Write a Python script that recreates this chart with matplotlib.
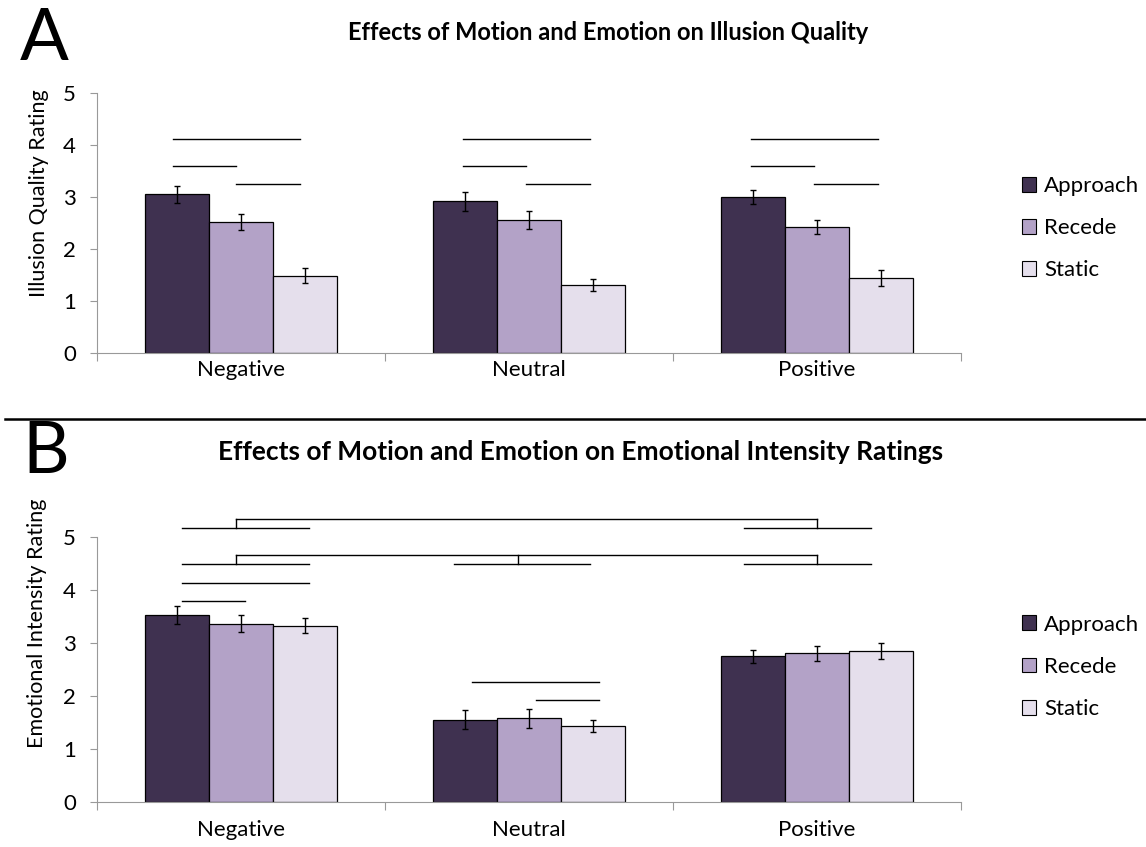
import matplotlib
matplotlib.use("Agg")
import matplotlib.pyplot as plt
from matplotlib.patches import Patch
import numpy as np

plt.rcParams['font.family'] = ['Lato', 'DejaVu Sans']

categories = ['Negative', 'Neutral', 'Positive']
conditions = ['Approach', 'Recede', 'Static']
colors = ['#3f3150', '#b3a2c7', '#e5dfec']

# panel A: illusion quality
quality = {
    'Approach': [3.05, 2.92, 3.00],
    'Recede':   [2.52, 2.56, 2.42],
    'Static':   [1.49, 1.31, 1.44],
}
quality_err = {
    'Approach': [0.17, 0.18, 0.13],
    'Recede':   [0.16, 0.18, 0.14],
    'Static':   [0.14, 0.11, 0.15],
}

# panel B: emotional intensity
intensity = {
    'Approach': [3.52, 1.55, 2.75],
    'Recede':   [3.36, 1.58, 2.81],
    'Static':   [3.33, 1.43, 2.85],
}
intensity_err = {
    'Approach': [0.17, 0.18, 0.12],
    'Recede':   [0.16, 0.18, 0.14],
    'Static':   [0.15, 0.11, 0.15],
}

# significance lines: (x0, x1, y) in data units
sig_a = [(-0.236, 0.205, 4.12), (-0.236, -0.017, 3.60), (-0.017, 0.205, 3.25),
         (0.771, 1.212, 4.12), (0.771, 0.990, 3.60), (0.990, 1.212, 3.25),
         (1.771, 2.212, 4.12), (1.771, 1.990, 3.60), (1.990, 2.212, 3.25)]
sig_b = [(-0.205, 0.014, 3.79), (-0.205, 0.236, 4.13), (-0.205, 0.236, 4.49),
         (-0.205, 0.236, 5.17), (0.740, 1.212, 4.49),
         (0.802, 1.243, 2.26), (1.024, 1.243, 1.92),
         (1.747, 2.188, 5.17), (1.747, 2.188, 4.49)]
# brackets joining groups: (list of x feet, y top, y foot)
brackets_b = [([-0.017, 2.0], 5.34, 5.17), ([-0.017, 0.962, 2.0], 4.66, 4.49)]

fig = plt.figure(figsize=(11.46, 8.47), dpi=100)
ax_a = fig.add_axes([0.0846, 0.5832, 0.754, 0.307])
ax_b = fig.add_axes([0.0846, 0.0531, 0.754, 0.3129])

width = 0.2222
x = np.arange(len(categories))


def draw_panel(ax, vals, errs, ylabel, xpad, label_xy, leg_y):
    for i, c in enumerate(conditions):
        ax.bar(x + (i - 1) * width, vals[c], width, color=colors[i],
               edgecolor='black', linewidth=0.9, zorder=2)
        ax.errorbar(x + (i - 1) * width, vals[c], yerr=errs[c], fmt='none',
                    ecolor='black', elinewidth=1.0, capsize=2.5, capthick=1.0,
                    zorder=3)
    ax.set_xlim(-0.5, 2.5)
    ax.set_ylim(0, 5)
    ax.set_yticks([0, 1, 2, 3, 4, 5])
    ax.set_xticks([-0.5, 0.5, 1.5, 2.5])
    ax.set_xticklabels([])
    ax.set_xticks(x, minor=True)
    ax.set_xticklabels(categories, minor=True, fontsize=16)
    ax.tick_params(axis='x', which='minor', length=0, pad=xpad)
    ax.tick_params(axis='x', which='major', length=6, color='#999999')
    ax.tick_params(axis='y', length=5, color='#999999', labelsize=16, pad=10)
    for s in ['top', 'right']:
        ax.spines[s].set_visible(False)
    for s in ['left', 'bottom']:
        ax.spines[s].set_color('#999999')
    ax.set_ylabel(ylabel, fontsize=15.5)
    ax.yaxis.set_label_coords(*label_xy)
    handles = [Patch(facecolor=colors[i], edgecolor='black', linewidth=0.8,
                     label=c) for i, c in enumerate(conditions)]
    ax.legend(handles=handles, loc='center left', bbox_to_anchor=(1.06, leg_y),
              frameon=False, fontsize=16, handlelength=0.65, handleheight=0.65,
              handletextpad=0.35, labelspacing=1.0, borderaxespad=0)


draw_panel(ax_a, quality, quality_err, 'Illusion Quality Rating',
           5, (-0.056, 0.615), 0.48)
draw_panel(ax_b, intensity, intensity_err, 'Emotional Intensity Rating',
           13, (-0.058, 0.675), 0.51)

for x0, x1, y in sig_a:
    ax_a.plot([x0, x1], [y, y], color='black', lw=1.0, clip_on=False)
for x0, x1, y in sig_b:
    ax_b.plot([x0, x1], [y, y], color='black', lw=1.0, clip_on=False)
for feet, ytop, yfoot in brackets_b:
    ax_b.plot([feet[0], feet[-1]], [ytop, ytop], color='black', lw=1.0, clip_on=False)
    for f in feet:
        ax_b.plot([f, f], [yfoot, ytop], color='black', lw=1.0, clip_on=False)

fig.text(608 / 1146, 1 - 32 / 847, 'Effects of Motion and Emotion on Illusion Quality',
         ha='center', va='center', fontsize=17, fontweight='bold')
fig.text(581 / 1146, 1 - 452 / 847,
         'Effects of Motion and Emotion on Emotional Intensity Ratings',
         ha='center', va='center', fontsize=19, fontweight='bold')
fig.text(20 / 1146, 1 - 39 / 847, 'A', ha='left', va='center', fontsize=52)
fig.text(22 / 1146, 1 - 452 / 847, 'B', ha='left', va='center', fontsize=52)
fig.add_artist(plt.Line2D([5 / 1146, 1], [1 - 419 / 847, 1 - 419 / 847],
                          color='black', lw=1.8, transform=fig.transFigure))

fig.savefig('out.png', dpi=100)
